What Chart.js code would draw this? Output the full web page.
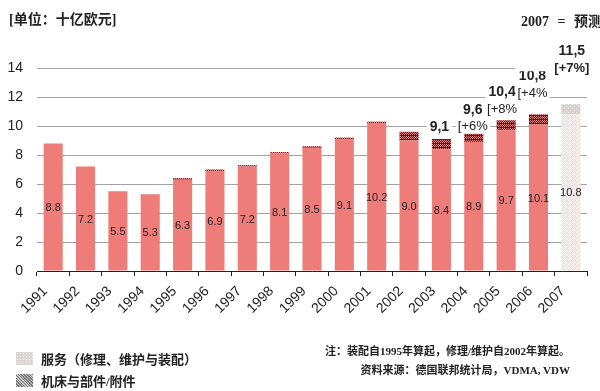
<!DOCTYPE html>
<html>
<head>
<meta charset="utf-8">
<script src="https://cdn.jsdelivr.net/npm/chart.js@4.4.1/dist/chart.umd.min.js"></script>
<style>
  body { margin: 0; background: #fff; }
  #wrap { position: relative; width: 600px; height: 391px; overflow: hidden; }
  canvas { position: absolute; left: 0; top: 0; }
  .txt { position: absolute; white-space: nowrap; color: #222;
         font-family: "Liberation Serif", "Noto Sans CJK SC", serif; font-weight: bold; }
  .unit { left: 9px; top: 8px; font-size: 14px; }
  .forecast { left: 521px; top: 10px; font-size: 14px; word-spacing: 5px; }
  .leg { left: 41px; font-size: 13px; }
  .box { position: absolute; left: 16px; width: 17px; height: 13px; }
  .box.service { background: #ddd6d6;
     background-image: radial-gradient(#f4f0f0 30%, transparent 31%); background-size: 3px 3px; }
  .box.machine { background: repeating-linear-gradient(45deg, #777 0 1px, #c8c8c8 1px 2px); }
  .note { right: 30px; font-size: 11px; text-align: right; line-height: 19px; top: 342px; }
</style>
</head>
<body>
<div id="wrap">
  <canvas id="chart" width="600" height="391"></canvas>
  <div class="txt unit">[单位：十亿欧元]</div>
  <div class="txt forecast">2007 = 预测</div>
  <div class="box service" style="top:352px"></div>
  <div class="txt leg" style="top:349px">服务（修理、维护与装配）</div>
  <div class="box machine" style="top:374px"></div>
  <div class="txt leg" style="top:371px">机床与部件/附件</div>
  <div class="txt note">注：装配自1995年算起，修理/维护自2002年算起。<br>资料来源：德国联邦统计局，VDMA, VDW</div>
</div>
<script>
// data
const years = ['1991','1992','1993','1994','1995','1996','1997','1998','1999','2000','2001','2002','2003','2004','2005','2006','2007'];
const machineValues = [8.8, 7.2, 5.5, 5.3, 6.3, 6.9, 7.2, 8.1, 8.5, 9.1, 10.2, 9.0, 8.4, 8.9, 9.7, 10.1, 10.8];
const serviceValues = [0, 0, 0, 0, 0.1, 0.1, 0.1, 0.1, 0.1, 0.1, 0.1, 0.6, 0.7, 0.7, 0.7, 0.7, 0.7];
const yTicks = [0, 2, 4, 6, 8, 10, 12, 14];
const calloutYears = ['2003', '2004', '2005', '2006', '2007'];
const calloutTotals = ['9,1', '9,6', '10,4', '10,8', '11,5'];
const calloutGrowth = ['', '[+6%', '[+8%', '[+4%', '[+7%]'];
const forecastYear = '2007';

// small tile patterns for the hatched parts
function makePattern(bg, fg, cells) {
    const c = document.createElement('canvas');
    c.width = c.height = 4;
    const g = c.getContext('2d');
    g.fillStyle = bg;
    g.fillRect(0, 0, 4, 4);
    g.fillStyle = fg;
    cells.forEach(([x, y]) => g.fillRect(x, y, 1, 1));
    return g.createPattern(c, 'repeat');
}
const ctx = document.getElementById('chart').getContext('2d');
const darkHatch = makePattern('#5a1e22', '#d77d7d', [[0,0],[2,0],[1,1],[3,1],[0,2],[2,2]]);
const lightDots = makePattern('#efe5e5', '#fbf8f8', [[0,0],[2,2],[1,3]]);
const greyDots = makePattern('#d9d0d0', '#ece6e6', [[0,0],[2,2]]);

const salmon = '#ee7d79';
const machineColors = years.map(y => y === forecastYear ? lightDots : salmon);
const serviceColors = years.map(y => y === forecastYear ? greyDots : darkHatch);

// px offsets of the callouts above the bar tops
const calloutLift = [12, 22, 28, 38, 53];
const calloutShift = [-2, -1, -4, -6, 1];

const labelPlugin = {
    id: 'labels',
    afterDatasetsDraw(chart) {
        const c = chart.ctx;
        const bars = chart.getDatasetMeta(0).data;
        const tops = chart.getDatasetMeta(1).data;
        c.save();
        c.textAlign = 'center';
        c.textBaseline = 'middle';
        c.fillStyle = '#222';
        c.font = '11px "Liberation Sans", Arial';
        bars.forEach((b, i) => {
            c.fillText(machineValues[i].toFixed(1), b.x, (b.y + b.base) / 2 + 1);
        });
        calloutYears.forEach((yr, k) => {
            const i = years.indexOf(yr);
            const x = tops[i].x + calloutShift[k];
            const y = tops[i].y - calloutLift[k];
            c.font = 'bold 14px "Liberation Sans", Arial';
            let w = c.measureText(calloutTotals[k]).width;
            c.fillStyle = '#fff';
            // the forecast callout blanks a wider stretch of the top gridline
            const left = yr === forecastYear ? tops[i - 1].x - 23 : x - w / 2 - 3;
            c.fillRect(left, y - 8, x + w / 2 + 3 - left, yr === forecastYear ? 28 : 16);
            c.fillStyle = '#222';
            c.fillText(calloutTotals[k], x, y);
            if (calloutGrowth[k]) {
                c.font = (yr === forecastYear ? 'bold ' : '') + '13px "Liberation Sans", Arial';
                w = c.measureText(calloutGrowth[k]).width;
                c.fillStyle = '#fff';
                c.fillRect(x - w / 2 - 2, y + 9, w + 4, 15);
                c.fillStyle = '#222';
                c.fillText(calloutGrowth[k], x, y + 17);
            }
        });
        c.restore();
    }
};

new Chart(ctx, {
    type: 'bar',
    data: {
        labels: years,
        datasets: [
            { label: '机床与部件/附件', data: machineValues, backgroundColor: machineColors },
            { label: '服务（修理、维护与装配）', data: serviceValues, backgroundColor: serviceColors }
        ]
    },
    options: {
        responsive: false,
        animation: false,
        barPercentage: 0.59,
        categoryPercentage: 1,
        layout: { padding: { top: 68, right: 13, bottom: 70, left: 0 } },
        plugins: { legend: { display: false }, tooltip: { enabled: false } },
        scales: {
            x: {
                stacked: true,
                z: 1,
                grid: { offset: true, drawOnChartArea: false, color: '#222', tickLength: 5 },
                border: { color: '#222', width: 1 },
                ticks: {
                    color: '#222', maxRotation: 45, minRotation: 45, padding: 7, labelOffset: -8,
                    font: { family: '"Liberation Sans", Arial', size: 14 }
                },
                afterFit: s => { s.height = 50; }
            },
            y: {
                stacked: true,
                min: 0, max: 14,
                afterBuildTicks: s => { s.ticks = yTicks.map(v => ({ value: v })); },
                grid: { color: '#a3a3a3', drawTicks: false },
                border: { display: false },
                ticks: { color: '#222', padding: 14, font: { family: '"Liberation Sans", Arial', size: 14 } },
                afterFit: s => { s.width = 37; }
            }
        }
    },
    plugins: [labelPlugin]
});
</script>
</body>
</html>
